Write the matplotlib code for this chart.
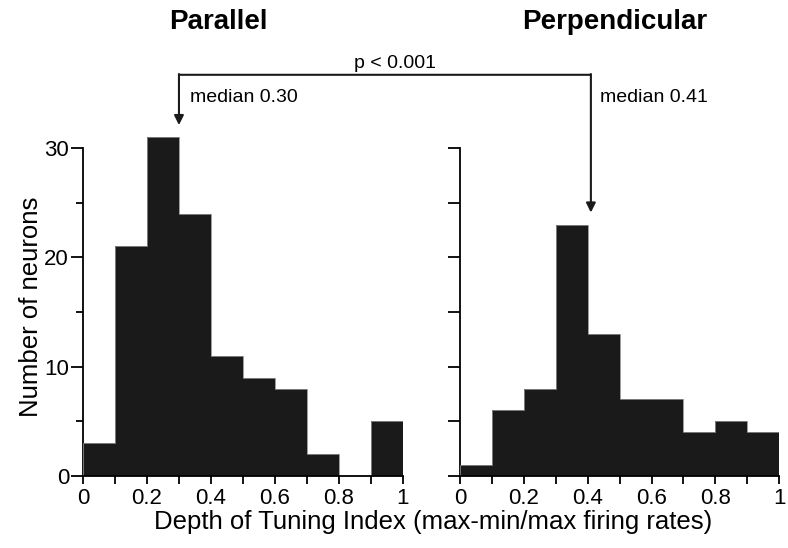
import matplotlib
matplotlib.use('Agg')
import matplotlib.pyplot as plt
from matplotlib.patches import ConnectionPatch
import numpy as np

# Datos de los histogramas
# ========================================
bin_edges = np.round(np.arange(0, 1.01, 0.1), 2)
parallel_counts = [3, 21, 31, 24, 11, 9, 8, 2, 0, 5]
perpendicular_counts = [1, 6, 8, 23, 13, 7, 7, 4, 5, 4]
titles = ['Parallel', 'Perpendicular']
median_parallel = 0.30
median_perpendicular = 0.41
p_text = 'p < 0.001'

xticks = [0, 0.2, 0.4, 0.6, 0.8, 1]
xticklabels = ['0', '0.2', '0.4', '0.6', '0.8', '1']

plt.rcParams['font.family'] = ['Liberation Sans', 'DejaVu Sans']

fig = plt.figure(figsize=(7.88, 5.48), dpi=100)
ax1 = fig.add_axes([0.1053, 0.1314, 0.406, 0.6184])
ax2 = fig.add_axes([0.5838, 0.1314, 0.405, 0.6184])

for ax, counts in [(ax1, parallel_counts), (ax2, perpendicular_counts)]:
    # histograma como escalones rellenos (sin lineas internas)
    ax.stairs(counts, bin_edges, fill=True, color='#1a1a1a', zorder=2)
    ax.stairs(counts, bin_edges, fill=False, color='#8c8c8c', linewidth=0.6, zorder=3)
    ax.set_xlim(0, 1)
    ax.set_ylim(0, 31)
    for s in ['top', 'right']:
        ax.spines[s].set_visible(False)
    ax.spines['left'].set_bounds(0, 30)
    ax.spines['left'].set_linewidth(1.3)
    ax.spines['bottom'].set_linewidth(1.3)
    ax.spines['bottom'].set_zorder(4)
    ax.set_xticks(xticks)
    ax.set_xticklabels(xticklabels)
    ax.set_xticks(np.arange(0.1, 1.0, 0.2), minor=True)
    ax.tick_params(axis='x', which='both', length=6, width=1.3, labelsize=16, pad=3)
    ax.patch.set_visible(False)

ax1.set_yticks([0, 10, 20, 30])
ax1.set_yticks([5, 15, 25], minor=True)
ax1.tick_params(axis='y', which='major', length=9, width=1.3, labelsize=16, pad=1)
ax1.tick_params(axis='y', which='minor', length=5, width=1.3)
ax1.set_ylabel('Number of neurons', fontsize=18.5, labelpad=1)

ax2.set_yticks(np.arange(0, 31, 5))
ax2.set_yticklabels([])
ax2.tick_params(axis='y', which='major', length=9, width=1.3)

fig.text(433 / 788, 0.025, 'Depth of Tuning Index (max-min/max firing rates)',
         fontsize=18.5, ha='center', va='bottom')

# Titulos
fig.text(0.2766, 0.96, titles[0], fontsize=20, fontweight='bold', ha='center', va='center')
fig.text(0.7805, 0.96, titles[1], fontsize=20, fontweight='bold', ha='center', va='center')

# Corchete con flechas de las medianas
y_top = 36.7
con = ConnectionPatch(xyA=(median_parallel, y_top), coordsA=ax1.transData,
                      xyB=(median_perpendicular, y_top), coordsB=ax2.transData,
                      color='#1a1a1a', linewidth=1.5)
fig.add_artist(con)
arrow = dict(arrowstyle='-|>', color='#1a1a1a', lw=1.5, mutation_scale=14,
             shrinkA=0, shrinkB=0)
ax1.annotate('', xy=(median_parallel, 32.1), xytext=(median_parallel, y_top + 0.07),
             arrowprops=arrow, annotation_clip=False)
ax2.annotate('', xy=(median_perpendicular, 24.1), xytext=(median_perpendicular, y_top + 0.07),
             arrowprops=arrow, annotation_clip=False)
ax1.text(0.334, 34.6, 'median 0.30', fontsize=14, ha='left', va='center', clip_on=False)
ax2.text(0.439, 34.6, 'median 0.41', fontsize=14, ha='left', va='center', clip_on=False)
fig.text(395 / 788, 1 - 64 / 548, p_text, fontsize=14, ha='center', va='center')

plt.savefig('out.png', dpi=100)
